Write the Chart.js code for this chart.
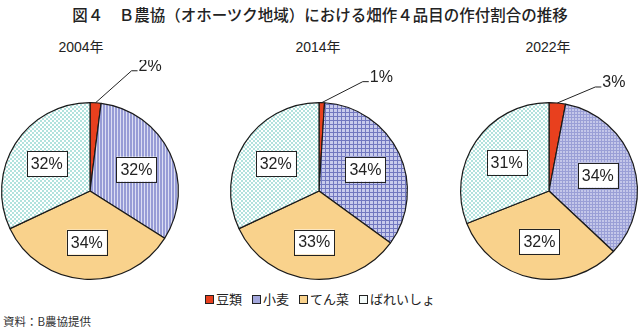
<!DOCTYPE html>
<html lang="ja">
<head>
<meta charset="utf-8">
<script src="https://cdn.jsdelivr.net/npm/chart.js@4"></script>
<style>
  body { margin: 0; width: 640px; height: 330px; overflow: hidden; background: #fff; position: relative;
         font-family: 'Liberation Sans', 'Noto Sans CJK JP', sans-serif; color: #222; }
  #titulo { position: absolute; top: 3px; left: 0; width: 640px; text-align: center;
            font: 500 15.5px 'Noto Sans CJK JP', sans-serif; color: #222; }
  .ano { position: absolute; top: 36px; width: 120px; text-align: center; font-size: 14px; }
  canvas { position: absolute; top: 60px; }
  #legenda { position: absolute; top: 289px; left: 0; width: 640px; text-align: center;
             font: 13px 'Noto Sans CJK JP', sans-serif; }
  #legenda span { margin: 0 5px; }
  #legenda i { display: inline-block; width: 7px; height: 7px; border: 1px solid #222; margin-right: 2px; vertical-align: 0px; }
  #fonte { position: absolute; left: 3px; top: 313px; font: 11.5px 'Noto Sans CJK JP', sans-serif; color: #333; }
</style>
</head>
<body>
<div id="titulo">図４　Ｂ農協（オホーツク地域）における畑作４品目の作付割合の推移</div>
<div id="legenda"></div>
<div id="fonte">資料：B農協提供</div>

<script>
const categorias = ['豆類', '小麦', 'てん菜', 'ばれいしょ'];
const anos = ['2004年', '2014年', '2022年'];
const dados2004 = [2, 32, 34, 32];
const dados2014 = [1, 34, 33, 32];
const dados2022 = [3, 34, 32, 31];
const series = [dados2004, dados2014, dados2022];

// posição de cada pizza na página, do título do ano e da linha de chamada
const centrosX = [90, 319, 549];
const anosX = [81, 318, 548];
const guias = [[36, -32], [41, -21], [38, -16]];

// padrões de preenchimento (hachuras)
function padrao(tam, desenha) {
  const c = document.createElement('canvas');
  c.width = tam; c.height = tam;
  const g = c.getContext('2d');
  desenha(g);
  return c.getContext('2d').createPattern(c, 'repeat');
}

const listras = padrao(3, g => {
  g.fillStyle = '#979cd6'; g.fillRect(0, 0, 3, 3);
  g.fillStyle = '#dcdef3'; g.fillRect(2, 0, 1, 3);
});
const grade = padrao(4, g => {
  g.fillStyle = '#c8cbec'; g.fillRect(0, 0, 4, 4);
  g.fillStyle = '#7278c0'; g.fillRect(0, 0, 1, 4); g.fillRect(0, 0, 4, 1);
});
const gradeClara = padrao(3, g => {
  g.fillStyle = '#c4c7e9'; g.fillRect(0, 0, 3, 3);
  g.fillStyle = '#9a9fd6'; g.fillRect(0, 0, 1, 3); g.fillRect(0, 0, 3, 1);
});
const pontos = padrao(4, g => {
  g.fillStyle = '#ffffff'; g.fillRect(0, 0, 4, 4);
  g.fillStyle = '#b2e2dd'; g.fillRect(0, 0, 2, 2); g.fillRect(2, 2, 2, 2);
});

const vermelho = '#e8401e';
const laranja = '#f9d28c';
const azuis = [listras, grade, gradeClara];

// rótulos de porcentagem: caixa branca dentro da fatia, ou linha de chamada se a fatia é pequena
const rotulos = {
  id: 'rotulos',
  afterDatasetsDraw(chart, args, opts) {
    const ctx = chart.ctx;
    const valores = chart.data.datasets[0].data;
    ctx.save();
    ctx.font = '16px "Liberation Sans", sans-serif';
    ctx.textBaseline = 'middle';
    ctx.strokeStyle = '#222';
    ctx.fillStyle = '#222';
    ctx.lineWidth = 1;
    chart.getDatasetMeta(0).data.forEach((arc, i) => {
      const v = valores[i];
      const { x, y, startAngle, endAngle, outerRadius } =
        arc.getProps(['x', 'y', 'startAngle', 'endAngle', 'outerRadius'], true);
      const meio = (startAngle + endAngle) / 2;
      const texto = v + '%';
      if (v < 5) {
        const x0 = x + Math.cos(meio) * outerRadius;
        const y0 = y + Math.sin(meio) * outerRadius;
        const x1 = x0 + opts.guia[0], y1 = y0 + opts.guia[1];
        ctx.beginPath();
        ctx.moveTo(x0, y0); ctx.lineTo(x1, y1); ctx.lineTo(x1 + 6, y1);
        ctx.stroke();
        ctx.textAlign = 'left';
        ctx.fillStyle = '#222';
        ctx.fillText(texto, x1 + 7, y1 - 4);
      } else {
        const r = outerRadius * 0.58;
        const cx = x + Math.cos(meio) * r, cy = y + Math.sin(meio) * r;
        const w = ctx.measureText(texto).width + 8, h = 25;
        ctx.fillStyle = '#fff';
        ctx.fillRect(cx - w / 2, cy - h / 2, w, h);
        ctx.strokeRect(Math.round(cx - w / 2) + 0.5, Math.round(cy - h / 2) + 0.5, Math.round(w), h);
        ctx.fillStyle = '#222';
        ctx.textAlign = 'center';
        ctx.fillText(texto, cx, cy + 1);
      }
    });
    ctx.restore();
  }
};

series.forEach((dados, k) => {
  const ano = document.createElement('div');
  ano.className = 'ano';
  ano.style.left = (anosX[k] - 60) + 'px';
  ano.textContent = anos[k];
  document.body.appendChild(ano);

  const canvas = document.createElement('canvas');
  canvas.width = 220; canvas.height = 230;
  canvas.style.left = (centrosX[k] - 110) + 'px';
  document.body.appendChild(canvas);

  new Chart(canvas, {
    type: 'pie',
    data: {
      labels: categorias,
      datasets: [{
        data: dados,
        backgroundColor: [vermelho, azuis[k], laranja, pontos],
        borderColor: '#1a1a1a',
        borderWidth: 1.2
      }]
    },
    options: {
      responsive: false,
      animation: false,
      events: [],
      layout: { padding: { left: 21, right: 21, top: 42, bottom: 10 } },
      plugins: {
        legend: { display: false },
        tooltip: { enabled: false },
        rotulos: { guia: guias[k] }
      }
    },
    plugins: [rotulos]
  });
});

// legenda
const coresLegenda = [vermelho, '#a3a7dc', laranja, '#f4fbfa'];
document.getElementById('legenda').innerHTML = categorias
  .map((c, i) => `<span><i style="background:${coresLegenda[i]}"></i>${c}</span>`)
  .join('');
</script>
</body>
</html>
